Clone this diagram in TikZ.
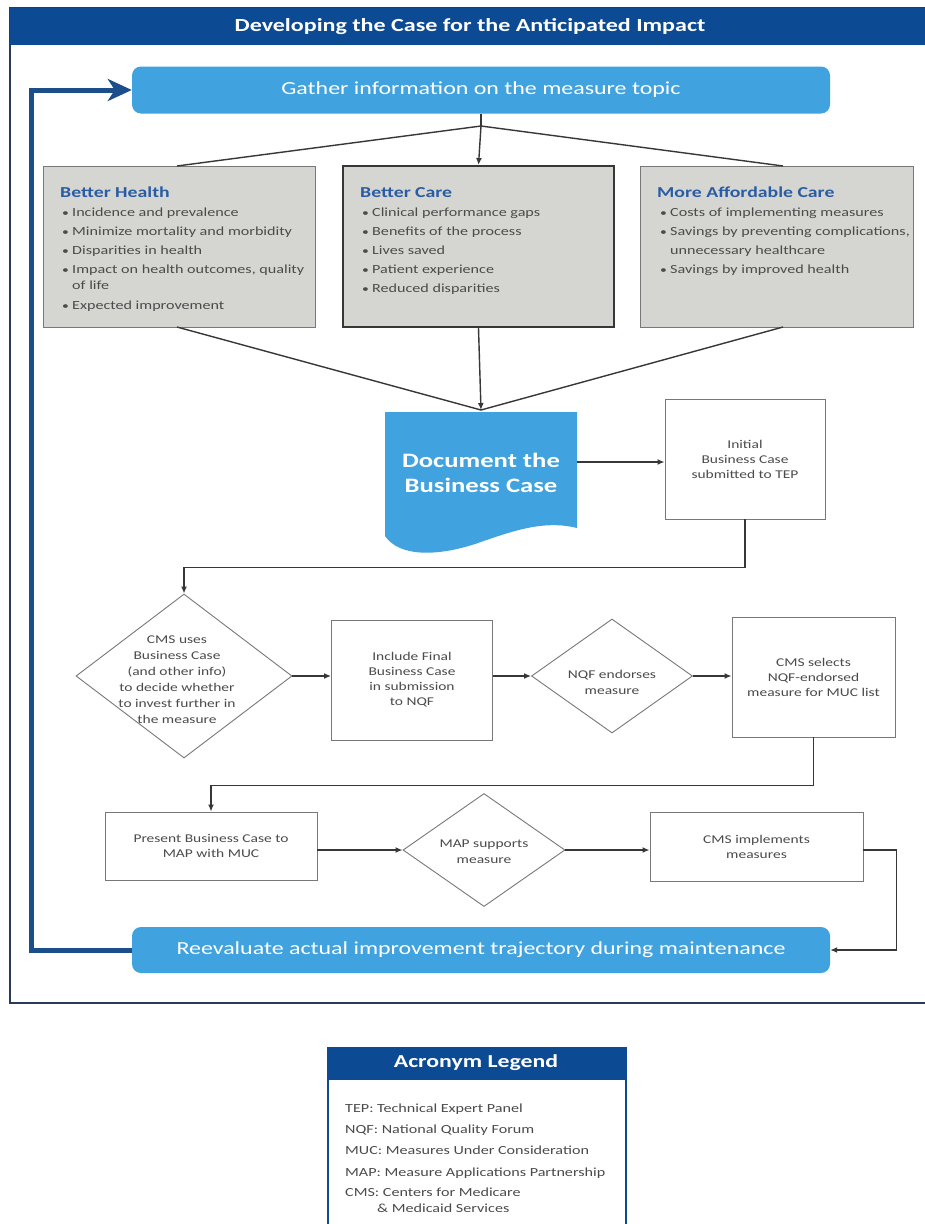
\documentclass[tikz,border=0pt]{standalone}
\usepackage{fontspec}
\setmainfont{Carlito}[FakeStretch=1.3]
\usetikzlibrary{arrows.meta,shapes.geometric}
\definecolor{titleblue}{RGB}{12,74,148}
\definecolor{lightblue}{RGB}{64,162,222}
\definecolor{loopblue}{RGB}{28,78,140}
\definecolor{greyfill}{RGB}{213,213,210}
\definecolor{greyline}{RGB}{120,120,120}
\definecolor{headblue}{RGB}{42,92,165}
\definecolor{txtgray}{RGB}{75,75,75}
\definecolor{linegray}{RGB}{55,55,55}
\definecolor{framecol}{RGB}{40,60,90}
\tikzset{
  flow/.style={draw=linegray, line width=1.4pt},
  arr/.style={flow, -{Latex[length=7pt,width=6pt]}},
  rbox/.style={draw=greyline, line width=0.9pt, fill=white, align=center, text=txtgray,
     font=\fontsize{11.9}{15}\selectfont, inner sep=0pt},
  dbox/.style={diamond, draw=greyline, line width=0.9pt, fill=white, inner sep=0pt},
  dtext/.style={align=center, text=txtgray, font=\fontsize{11.9}{16}\selectfont},
  bluebox/.style={fill=lightblue, rounded corners=9pt, text=white, inner sep=0pt,
     font=\fontsize{18.4}{20}\selectfont},
  greybox/.style={fill=greyfill, draw=greyline, line width=1pt, inner sep=0pt},
  head/.style={anchor=base west, text=headblue, font=\bfseries\fontsize{15.2}{16}\selectfont, inner sep=0pt},
  bul/.style={anchor=base west, text=txtgray, font=\fontsize{10.5}{12}\selectfont, inner sep=0pt},
  btxt/.style={anchor=base west, text=txtgray, font=\fontsize{12.4}{14}\selectfont, inner sep=0pt},
  legtxt/.style={anchor=base west, text=txtgray, font=\fontsize{12.4}{14}\selectfont, inner sep=0pt},
}
\begin{document}
\begin{tikzpicture}[x=1pt,y=-1pt]
\useasboundingbox (0,0) rectangle (925,1224);
\fill[white] (0,0) rectangle (925,1224);
% frame and title
\draw[framecol, line width=1.6pt] (10,8) rectangle (926,1003);
\fill[titleblue] (10,8) rectangle (925,45);
\node[text=white, font=\bfseries\fontsize{18.5}{20}\selectfont] (title) at (470,27) {Developing the Case for the Anticipated Impact};

% top and bottom blue boxes
\node[bluebox, minimum width=698pt, minimum height=47pt] (gather) at (481,90) {Gather information on the measure topic};
\node[bluebox, minimum width=698pt, minimum height=46pt] (reeval) at (481,950) {Reevaluate actual improvement trajectory during maintenance};

% grey boxes
\node[greybox, minimum width=272pt, minimum height=161pt] (bh) at (179,246.5) {};
\node[greybox, draw=linegray, line width=2pt, minimum width=271pt, minimum height=161pt] (bc) at (478.5,246.5) {};
\node[greybox, minimum width=273pt, minimum height=161pt] (mac) at (776.5,246.5) {};

\node[head] (bhh) at (60,197) {Better Health};
\node[head] (bch) at (360,197) {Better Care};
\node[head] (mach) at (657,197) {More Affordable Care};

\foreach \y/\t [count=\i] in {216/Incidence and prevalence, 235/Minimize mortality and morbidity, 254/Disparities in health, 273/{Impact on health outcomes, quality}, 309/Expected improvement}{
  \node[bul] (bhb\i) at (62,\y) {\textbullet};
  \node[btxt] (bht\i) at (72,\y) {\t};
}
\node[btxt] (bht6) at (72,289) {of life};
\foreach \y/\t [count=\i] in {216/Clinical performance gaps, 235/Benefits of the process, 254/Lives saved, 273/Patient experience, 292/Reduced disparities}{
  \node[bul] (bcb\i) at (362,\y) {\textbullet};
  \node[btxt] (bct\i) at (372,\y) {\t};
}
\foreach \y/\t [count=\i] in {216/Costs of implementing measures, 235/{Savings by preventing complications,}, 273/Savings by improved health}{
  \node[bul] (macb\i) at (660,\y) {\textbullet};
  \node[btxt] (mact\i) at (670,\y) {\t};
}
\node[btxt] (mact4) at (670,254) {unnecessary healthcare};

% split from gather
\coordinate (split) at (481,126);
\draw[flow] (gather.south) -- (split);
\draw[flow] (split) -- (177,166);
\draw[flow] (split) -- (783,166);
\draw[arr] (split) -- (bc.north);

% document shape
\node[minimum width=192pt, minimum height=100pt, inner sep=0pt] (doc) at (481,462) {};
\fill[lightblue] (385,412) -- (577,412) -- (577,528)
   .. controls (545,520) and (515,530) .. (478,543)
   .. controls (440,556) and (400,558) .. (385,536) -- cycle;
\node[text=white, align=center, font=\bfseries\fontsize{20.5}{25}\selectfont] (doct) at (481,473) {Document the\\Business Case};

% merge into document
\coordinate (merge) at (481,410);
\draw[flow] (177,327) -- (merge);
\draw[flow] (783,327) -- (merge);
\draw[arr] (bc.south) -- (merge);

% initial box
\node[rbox, minimum width=160pt, minimum height=120pt] (init) at (745,459) {Initial\\Business Case\\submitted to TEP};
\draw[arr] (doc.east) -- (doc.east -| init.west);

% row 2
\node[dbox, minimum width=216pt, minimum height=164pt] (d1) at (184,676) {};
\node[dtext] (d1t) at (177,680) {CMS uses\\Business Case\\(and other info)\\to decide whether\\to invest further in\\the measure};
\node[rbox, minimum width=161pt, minimum height=120pt] (final) at (412,680) {Include Final\\Business Case\\in submission\\to NQF};
\node[dbox, minimum width=161pt, minimum height=114pt] (nqf) at (612,676) {};
\node[dtext] (nqft) at (612,682) {NQF endorses\\measure};
\node[rbox, minimum width=163pt, minimum height=120pt] (sel) at (813.5,677) {CMS selects\\NQF-endorsed\\measure for MUC list};

\draw[arr] (init.south) -- ++(0,48) -| (d1.north);
\draw[arr] (d1.east) -- (d1.east -| final.west);
\draw[arr] (final.east |- nqf.west) -- (nqf.west);
\draw[arr] (nqf.east) -- (nqf.east -| sel.west);

% row 3
\node[rbox, minimum width=212pt, minimum height=68pt] (pres) at (211,846) {Present Business Case to\\MAP with MUC};
\node[dbox, minimum width=162pt, minimum height=113pt] (map) at (484,850) {};
\node[dtext] (mapt) at (484,852) {MAP supports\\measure};
\node[rbox, minimum width=213pt, minimum height=69pt] (impl) at (756.5,846.5) {CMS implements\\measures};

\draw[arr] (sel.south) -- ++(0,48) -| (pres.north);
\draw[arr] (pres.east |- map.west) -- (map.west);
\draw[arr] (map.east) -- (map.east -| impl.west);
\draw[arr] (impl.east |- map.east) -- ++(33,0) |- (reeval.east);

% loop back
\draw[loopblue, line width=5pt, -{Stealth[length=24pt,width=22pt,inset=7pt]}]
  (reeval.west) -- (31,950) -- (31,90) -- (gather.west);

% legend
\node[draw=titleblue, line width=2pt, fill=white, minimum width=298pt, minimum height=180pt, anchor=north west, inner sep=0pt] (leg) at (327,1047) {};
\fill[titleblue] (327,1047) rectangle (625,1080);
\node[text=white, font=\bfseries\fontsize{18.3}{20}\selectfont] (legh) at (476,1063) {Acronym Legend};
\node[legtxt] (l1) at (345,1112) {TEP: Technical Expert Panel};
\node[legtxt] (l2) at (345,1133) {NQF: National Quality Forum};
\node[legtxt] (l3) at (345,1154) {MUC: Measures Under Consideration};
\node[legtxt] (l4) at (345,1176) {MAP: Measure Applications Partnership};
\node[legtxt] (l5) at (345,1196) {CMS: Centers for Medicare};
\node[legtxt] (l6) at (377,1212) {\& Medicaid Services};
\end{tikzpicture}
\end{document}
